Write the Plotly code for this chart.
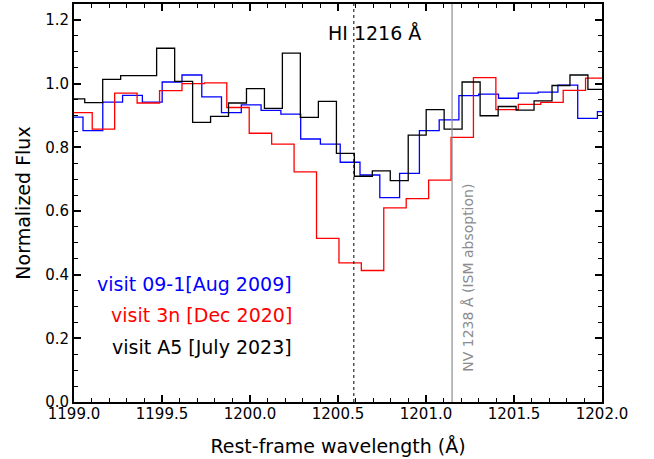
import numpy as np
import plotly.graph_objects as go

# ---- data (bin-centre wavelength in Angstrom, normalized flux) ----
wave_blue = [1198.995, 1199.107, 1199.220, 1199.332, 1199.445, 1199.557, 1199.670,
             1199.782, 1199.894, 1200.007, 1200.119, 1200.232, 1200.344, 1200.456,
             1200.569, 1200.681, 1200.794, 1200.906, 1201.019, 1201.131, 1201.243,
             1201.356, 1201.468, 1201.581, 1201.693, 1201.806, 1201.918, 1202.030]
flux_blue = [0.895, 0.852, 0.942, 0.963, 0.942, 1.005, 1.027, 0.958, 0.909, 0.933,
             0.916, 0.904, 0.826, 0.810, 0.753, 0.713, 0.642, 0.718, 0.852, 0.886,
             0.962, 0.967, 0.954, 0.970, 0.973, 0.995, 0.891, 0.912]

wave_red = [1199.040, 1199.167, 1199.295, 1199.422, 1199.550, 1199.677, 1199.804,
            1199.932, 1200.059, 1200.187, 1200.314, 1200.442, 1200.569, 1200.696,
            1200.824, 1200.951, 1201.079, 1201.206, 1201.333, 1201.461, 1201.588,
            1201.716, 1201.843, 1201.970]
flux_red = [0.909, 0.857, 0.970, 0.939, 0.978, 1.000, 1.002, 0.925, 0.844, 0.810,
            0.723, 0.514, 0.437, 0.413, 0.610, 0.639, 0.697, 0.831, 1.019, 0.918,
            0.935, 0.941, 0.979, 1.017]

wave_black = [1199.010, 1199.112, 1199.214, 1199.316, 1199.418, 1199.521, 1199.623,
              1199.725, 1199.827, 1199.929, 1200.031, 1200.133, 1200.235, 1200.337,
              1200.440, 1200.542, 1200.644, 1200.746, 1200.848, 1200.950, 1201.052,
              1201.154, 1201.256, 1201.359, 1201.461, 1201.563, 1201.665, 1201.767,
              1201.869, 1201.971]
flux_black = [0.952, 0.940, 1.013, 1.025, 1.025, 1.111, 1.007, 0.878, 0.897, 0.939,
              0.984, 0.922, 1.096, 0.894, 0.944, 0.781, 0.709, 0.726, 0.695, 0.838,
              0.918, 0.857, 1.005, 0.899, 0.928, 0.917, 0.946, 0.994, 1.027, 0.982]

labels = ["visit 09-1[Aug 2009]", "visit 3n [Dec 2020]", "visit A5 [July 2023]"]
label_y = [0.372, 0.273, 0.173]
label_x = 1200.25

hi_line = 1200.59
hi_label = "HI 1216 Å"
nv_line = 1201.148
nv_label = "NV 1238 Å (ISM absoption)"

FONT = "DejaVu Sans"


def step_xy(centers, values):
    c = np.asarray(centers, dtype=float)
    v = np.asarray(values, dtype=float)
    mids = (c[1:] + c[:-1]) / 2
    left0 = c[0] - (c[1] - c[0]) / 2
    right = c[-1] + (c[-1] - c[-2]) / 2
    x = np.concatenate([[left0], mids, [right]])
    y = np.concatenate([v, [v[-1]]])
    return x, y


fig = go.Figure()
for w, f, col, name in [(wave_blue, flux_blue, "#0000ff", labels[0]),
                        (wave_red, flux_red, "#ff0000", labels[1]),
                        (wave_black, flux_black, "#000000", labels[2])]:
    x, y = step_xy(w, f)
    fig.add_trace(go.Scatter(x=x, y=y, mode="lines", line_shape="hv",
                             line=dict(color=col, width=1.3), name=name,
                             showlegend=False))

fig.add_shape(type="line", x0=hi_line, x1=hi_line, y0=0, y1=1, xref="x", yref="paper",
              line=dict(color="black", width=1, dash="dot"))
fig.add_shape(type="line", x0=nv_line, x1=nv_line, y0=0, y1=1, xref="x", yref="paper",
              line=dict(color="#8c8c8c", width=1.2))

fig.add_annotation(x=1200.708, y=1.159, text=hi_label, showarrow=False,
                   font=dict(family=FONT, size=19, color="black"),
                   xanchor="center", yanchor="middle")
fig.add_annotation(x=1201.237, y=0.088, text=nv_label, showarrow=False, textangle=-90,
                   font=dict(family=FONT, size=14, color="#8c8c8c"),
                   xanchor="center", yanchor="bottom")

for txt, yy, col in zip(labels, label_y, ["#0000ff", "#ff0000", "#000000"]):
    fig.add_annotation(x=label_x, y=yy, text=txt, showarrow=False,
                       font=dict(family=FONT, size=19, color=col),
                       xanchor="right", yanchor="middle")

axis_common = dict(showline=True, linecolor="black", linewidth=1.8, mirror="ticks",
                   ticks="inside", ticklen=7, tickwidth=1.5, tickcolor="black",
                   showgrid=False, zeroline=False,
                   tickfont=dict(family=FONT, size=15, color="black"))

fig.update_xaxes(range=[1199.0, 1202.0], tick0=1199.0, dtick=0.5, tickformat=".1f",
                 ticklabelstandoff=-3,
                 minor=dict(ticks="inside", ticklen=4, tickwidth=1.2, dtick=0.1,
                            tick0=1199.0, tickcolor="black", showgrid=False),
                 title=dict(text="Rest-frame wavelength (Å)",
                            font=dict(family=FONT, size=19, color="black"), standoff=18),
                 **axis_common)
fig.update_yaxes(range=[0, 1.25], tick0=0, dtick=0.2, tickformat=".1f",
                 minor=dict(ticks="inside", ticklen=4, tickwidth=1.2, dtick=0.05,
                            tick0=0, tickcolor="black", showgrid=False),
                 title=dict(text="Normalized Flux",
                            font=dict(family=FONT, size=19, color="black"), standoff=10),
                 **axis_common)

fig.update_layout(width=654, height=459, margin=dict(l=74, r=52, t=2, b=57),
                  plot_bgcolor="white", paper_bgcolor="white",
                  font=dict(family=FONT, color="black"))

fig.write_html("out.html", config={"displayModeBar": False},
               post_script="document.body.style.margin='0px';")
